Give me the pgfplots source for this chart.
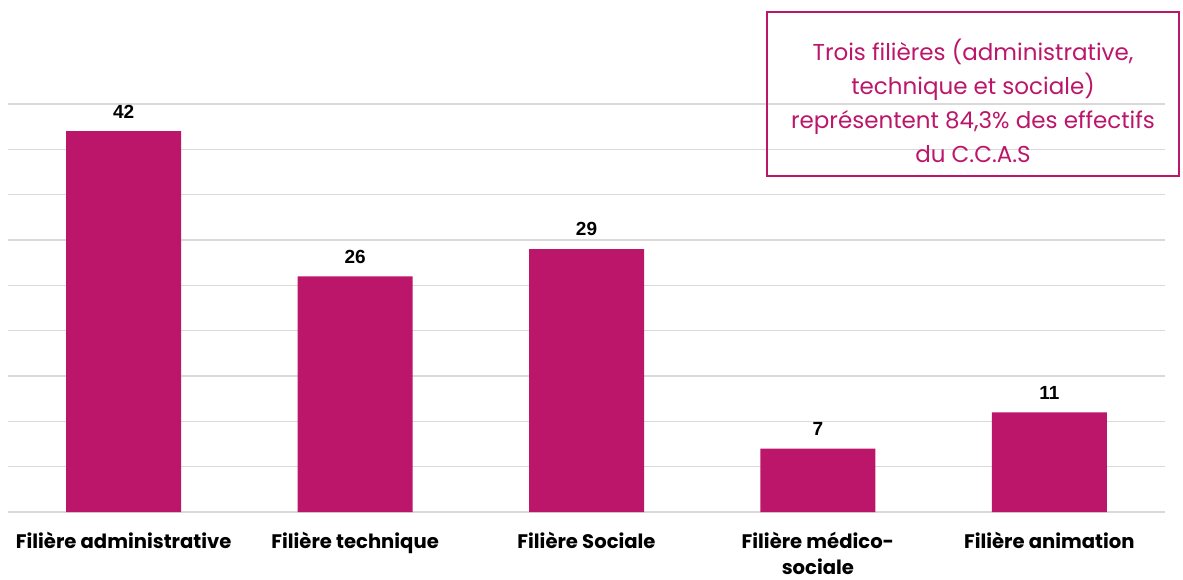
\documentclass[border=0pt]{standalone}
\usepackage{fontspec}
\setmainfont{Poppins}
\newfontfamily\arialf{Liberation Sans}
\usepackage{pgfplots}
\pgfplotsset{compat=1.18}
\definecolor{barc}{RGB}{188,22,106}
\definecolor{gridc}{RGB}{217,217,217}
\begin{document}
\begin{tikzpicture}
\path[use as bounding box] (-4pt,-33.5pt) rectangle (587.5pt,256pt);
\begin{axis}[
  at={(0,0)}, anchor=south west,
  scale only axis, width=578.5pt, height=204pt,
  xmin=-0.5, xmax=4.5, ymin=0, ymax=45,
  ytick={0,5,...,45}, yticklabels={},
  ymajorgrids, grid style={gridc, line width=0.8pt},
  major tick length=0pt,
  axis line style={draw=none},
  xtick=data,
  xticklabels={Filière administrative, Filière technique, Filière Sociale, {Filière médico-\\sociale}, Filière animation},
  xticklabel style={font=\fontsize{9.8}{13}\selectfont\bfseries, align=center, anchor=north, yshift=-6.5pt},
  nodes near coords,
  /pgf/number format/assume math mode=true,
  every node near coord/.append style={font=\arialf\fontsize{9.5}{11}\selectfont\bfseries, black, yshift=3pt},
]
\addplot[ybar, bar width=57.5pt, fill=barc, draw=none] coordinates {(0,42) (1,26) (2,29) (3,7) (4,11)};
\end{axis}
\node[draw=barc, line width=0.6pt, minimum width=206pt, minimum height=82pt, inner sep=0pt] at (482.5pt,209pt) {};
\node[text=barc, align=center, font=\fontsize{11.5}{16.9}\selectfont] at (482.5pt,205.5pt) {Trois filières (administrative,\\technique et sociale)\\représentent 84,3\% des effectifs\\du C.C.A.S};
\end{tikzpicture}
\end{document}
